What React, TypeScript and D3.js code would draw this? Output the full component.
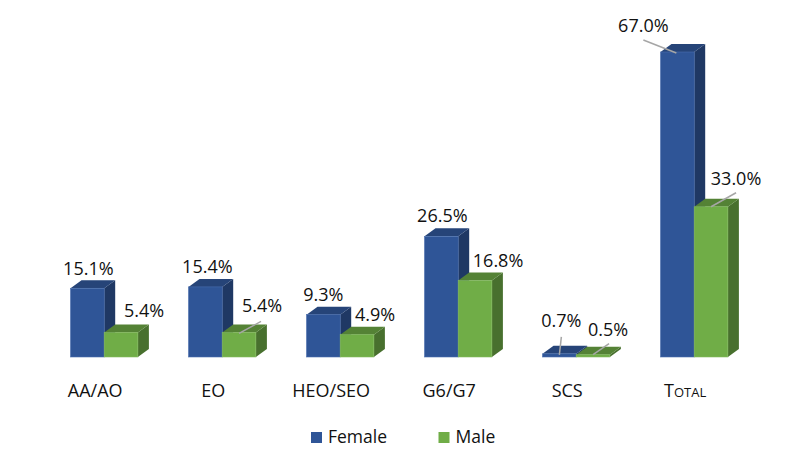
import React from 'react';
import * as d3 from 'd3';

const categories = ['AA/AO', 'EO', 'HEO/SEO', 'G6/G7', 'SCS', 'Total'];
const female = [15.1, 15.4, 9.3, 26.5, 0.7, 67.0];
const male = [5.4, 5.4, 4.9, 16.8, 0.5, 33.0];

const width = 809;
const height = 462;
const baseline = 357;
const depthX = 11;
const depthY = 8;
const labelFont = "'Open Sans', 'Noto Sans', sans-serif";

// hand placed data labels, offset from the top centre of the front face
const femaleLabelPos: [number, number][] = [[1, -13], [2, -14], [0, -14], [1, -14], [2, -27], [-34, -20]];
const maleLabelPos: [number, number][] = [[23, -15], [23, -20], [18, -14], [23, -14], [15, -19], [25, -22]];

// leader lines as [x1, y1, x2, y2], same offsets
const femaleLeaders: ([number, number, number, number] | null)[] = [null, null, null, null, [2, -17, 0, 1], [-34, -12, -1, 1]];
const maleLeaders: ([number, number, number, number] | null)[] = [null, [22, -11, 0, 1], null, null, [16, -11, 0, 0], [25, -14, 0, 0]];

const series = [
  { name: 'Female', values: female, labels: femaleLabelPos, leaders: femaleLeaders, front: '#2F5597', side: '#1F3864', top: '#264478', edge: '#4A6FAE' },
  { name: 'Male', values: male, labels: maleLabelPos, leaders: maleLeaders, front: '#70AD47', side: '#48702E', top: '#548235', edge: '#85BB62' },
];

const x = d3.scaleBand<string>().domain(categories).range([45.2, 753.2]).paddingInner(0).paddingOuter(0);
const y = d3.scaleLinear().domain([0, 67]).range([baseline, 52]);
const legendX = d3.scaleOrdinal<string, number>().domain(series.map(d => d.name)).range([311, 438.5]);
const barW = 33.7;

function barX(cat: string, s: number) {
  return x(cat)! + x.bandwidth() / 2 - barW + s * barW;
}

export default function App() {
  return (
    <svg
      width={width}
      height={height}
      viewBox={`0 0 ${width} ${height}`}
      style={{ position: 'absolute', left: 0, top: 0, background: '#fff' }}
    >
      {categories.map((cat, i) => (
        <g key={cat}>
          {series.map((s, si) => {
            const x0 = barX(cat, si);
            const x1 = x0 + barW;
            const yt = y(s.values[i]);
            const side = d3.path();
            side.moveTo(x1, yt);
            side.lineTo(x1 + depthX, yt - depthY);
            side.lineTo(x1 + depthX, baseline - depthY);
            side.lineTo(x1, baseline);
            side.closePath();
            const top = d3.path();
            top.moveTo(x0, yt);
            top.lineTo(x0 + depthX, yt - depthY);
            top.lineTo(x1 + depthX, yt - depthY);
            top.lineTo(x1, yt);
            top.closePath();
            return (
              <g key={s.name}>
                <path d={side.toString()} fill={s.side} />
                <path d={top.toString()} fill={s.top} />
                <rect x={x0} y={yt} width={barW} height={baseline - yt} fill={s.front} stroke={s.edge} strokeWidth={0.6} />
              </g>
            );
          })}
          {series.map((s, si) => {
            const cx = barX(cat, si) + barW / 2;
            const yt = y(s.values[i]);
            const [dx, dy] = s.labels[i];
            const l = s.leaders[i];
            return (
              <g key={s.name}>
                {l && (
                  <line x1={cx + l[0]} y1={yt + l[1]} x2={cx + l[2]} y2={yt + l[3]} stroke="#A6A6A6" strokeWidth={1.5} />
                )}
                <text x={cx + dx} y={yt + dy} textAnchor="middle" fontFamily={labelFont} fontSize={18} fill="#111">
                  {d3.format('.1f')(s.values[i])}%
                </text>
              </g>
            );
          })}
          <text
            x={x(cat)! + x.bandwidth() / 2 - 9}
            y={397}
            textAnchor="middle"
            fontFamily={labelFont}
            fontSize={18}
            fill="#111"
            style={cat === 'Total' ? { fontVariant: 'small-caps' } : undefined}
          >
            {cat}
          </text>
        </g>
      ))}
      {series.map(s => (
        <g key={s.name}>
          <rect x={legendX(s.name)} y={432} width={11} height={11} fill={s.front} />
          <text x={legendX(s.name) + 17} y={443} fontFamily={labelFont} fontSize={17.5} fill="#111">
            {s.name}
          </text>
        </g>
      ))}
    </svg>
  );
}
